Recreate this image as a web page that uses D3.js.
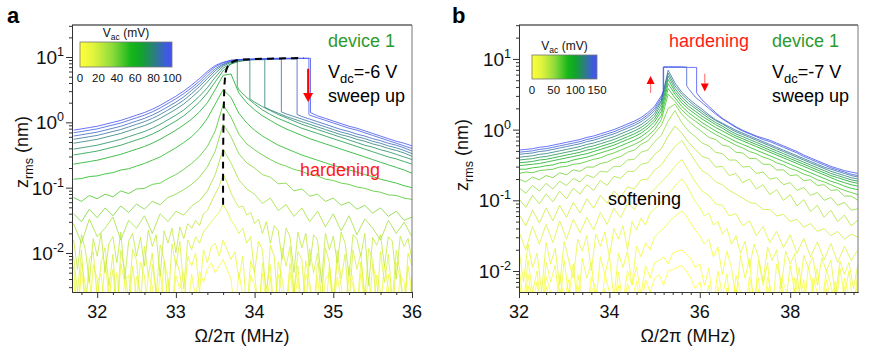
<!DOCTYPE html>
<html><head><meta charset="utf-8">
<script src="https://cdn.jsdelivr.net/npm/d3@7"></script>
<style>
body{margin:0;background:#fff}
svg{display:block}
text{font-family:"Liberation Sans",Arial,Helvetica,sans-serif}
</style>
</head><body>
<svg id="chart" width="871" height="353"></svg>
<script>
// ---------------- DATA (log10 of z_rms in nm) ----------------
const freqA = [31.7,31.8,31.9,32.0,32.1,32.2,32.3,32.4,32.5,32.6,32.7,32.8,32.9,33.0,33.1,33.2,33.3,33.4,33.5,33.6,33.7,33.8,33.9,34.0,34.1,34.2,34.3,34.4,34.5,34.6,34.7,34.8,34.9,35.0,35.1,35.2,35.3,35.4,35.5,35.6,35.7,35.8,35.9,36.0];
const freqAFine = [31.70,31.75,31.80,31.85,31.90,31.95,32.00,32.05,32.10,32.15,32.20,32.25,32.30,32.35,32.40,32.45,32.50,32.55,32.60,32.65,32.70,32.75,32.80,32.85,32.90,32.95,33.00,33.05,33.10,33.15,33.20,33.25,33.30,33.35,33.40,33.45,33.50,33.55,33.60,33.65,33.70,33.75,33.80,33.85,33.90,33.95,34.00,34.05,34.10,34.15,34.20,34.25,34.30,34.35,34.40,34.45,34.50,34.55,34.60,34.65,34.70,34.75,34.80,34.85,34.90,34.95,35.00,35.05,35.10,35.15,35.20,35.25,35.30,35.35,35.40,35.45,35.50,35.55,35.60,35.65,35.70,35.75,35.80,35.85,35.90,35.95,36.00];
const vacA = [100,95,90,85,80,75,70,62,54,46,38,30,23,16,9,3];
const gridOfA = [0,0,0,0,0,0,0,0,0,0,0,0,1,1,1,1];
const logZA = [
[-0.12,-0.10,-0.08,-0.06,-0.03,0.00,0.03,0.07,0.11,0.15,0.20,0.26,0.33,0.40,0.48,0.57,0.67,0.78,0.87,0.92,0.95,0.96,0.97,0.97,0.97,0.98,0.98,0.98,0.98,0.98,0.98,0.10,0.06,0.02,-0.02,-0.06,-0.09,-0.13,-0.17,-0.21,-0.25,-0.29,-0.32,-0.36],
[-0.16,-0.14,-0.12,-0.10,-0.07,-0.04,-0.01,0.03,0.07,0.11,0.16,0.22,0.29,0.36,0.44,0.53,0.63,0.75,0.85,0.91,0.95,0.96,0.96,0.97,0.97,0.97,0.97,0.98,0.98,0.98,0.11,0.07,0.03,-0.01,-0.05,-0.09,-0.12,-0.16,-0.20,-0.24,-0.28,-0.32,-0.36,-0.40],
[-0.21,-0.19,-0.17,-0.15,-0.12,-0.09,-0.06,-0.02,0.02,0.06,0.11,0.17,0.24,0.31,0.39,0.49,0.59,0.71,0.82,0.89,0.94,0.96,0.96,0.96,0.97,0.97,0.97,0.97,0.97,0.09,0.05,0.01,-0.03,-0.07,-0.11,-0.14,-0.18,-0.21,-0.25,-0.28,-0.32,-0.35,-0.39,-0.44],
[-0.26,-0.24,-0.22,-0.20,-0.17,-0.14,-0.11,-0.07,-0.03,0.01,0.06,0.12,0.19,0.26,0.34,0.44,0.55,0.67,0.79,0.88,0.93,0.95,0.96,0.96,0.96,0.97,0.97,0.13,0.09,0.05,0.01,-0.03,-0.07,-0.11,-0.15,-0.18,-0.22,-0.25,-0.29,-0.32,-0.36,-0.39,-0.43,-0.48],
[-0.32,-0.30,-0.28,-0.26,-0.23,-0.20,-0.17,-0.13,-0.09,-0.05,0.00,0.06,0.13,0.20,0.28,0.38,0.49,0.62,0.75,0.86,0.92,0.94,0.95,0.96,0.96,0.19,0.14,0.09,0.05,0.01,-0.03,-0.07,-0.11,-0.15,-0.19,-0.22,-0.26,-0.29,-0.33,-0.36,-0.40,-0.43,-0.47,-0.52],
[-0.41,-0.39,-0.37,-0.35,-0.32,-0.29,-0.26,-0.22,-0.18,-0.14,-0.09,-0.03,0.04,0.11,0.19,0.29,0.40,0.53,0.69,0.83,0.90,0.93,0.95,0.31,0.24,0.18,0.12,0.07,0.02,-0.03,-0.07,-0.11,-0.15,-0.19,-0.23,-0.27,-0.31,-0.35,-0.38,-0.42,-0.45,-0.49,-0.53,-0.57],
[-0.50,-0.48,-0.46,-0.44,-0.41,-0.38,-0.35,-0.31,-0.27,-0.23,-0.18,-0.12,-0.05,0.02,0.10,0.20,0.31,0.45,0.62,0.79,0.89,0.50,0.38,0.28,0.19,0.12,0.06,0.01,-0.04,-0.09,-0.13,-0.17,-0.21,-0.25,-0.29,-0.33,-0.37,-0.41,-0.45,-0.49,-0.53,-0.56,-0.60,-0.64],
[-0.64,-0.62,-0.60,-0.58,-0.55,-0.52,-0.49,-0.45,-0.41,-0.37,-0.32,-0.26,-0.19,-0.12,-0.04,0.05,0.16,0.30,0.50,0.72,0.74,0.45,0.30,0.19,0.10,0.03,-0.04,-0.10,-0.15,-0.20,-0.25,-0.29,-0.33,-0.37,-0.41,-0.45,-0.49,-0.53,-0.57,-0.61,-0.65,-0.69,-0.73,-0.78],
[-0.87,-0.86,-0.83,-0.82,-0.79,-0.77,-0.73,-0.71,-0.67,-0.63,-0.58,-0.53,-0.46,-0.39,-0.31,-0.22,-0.10,0.06,0.28,0.50,0.38,0.14,-0.01,-0.12,-0.21,-0.28,-0.35,-0.40,-0.45,-0.50,-0.54,-0.58,-0.62,-0.66,-0.69,-0.73,-0.76,-0.80,-0.83,-0.87,-0.90,-0.93,-0.97,-1.00],
[-1.15,-1.21,-1.12,-1.17,-1.10,-1.14,-1.05,-1.09,-1.02,-1.01,-0.95,-0.93,-0.86,-0.80,-0.72,-0.63,-0.52,-0.37,-0.13,0.27,0.08,-0.18,-0.33,-0.42,-0.50,-0.57,-0.63,-0.67,-0.72,-0.75,-0.80,-0.82,-0.87,-0.89,-0.93,-0.95,-0.99,-1.01,-1.05,-1.07,-1.11,-1.12,-1.16,-1.18],
[-1.40,-1.52,-1.33,-1.46,-1.31,-1.43,-1.28,-1.38,-1.25,-1.33,-1.21,-1.26,-1.15,-1.10,-1.03,-0.95,-0.84,-0.68,-0.44,-0.03,-0.22,-0.48,-0.62,-0.70,-0.80,-0.84,-0.94,-0.93,-1.05,-1.02,-1.13,-1.10,-1.21,-1.16,-1.27,-1.22,-1.33,-1.27,-1.39,-1.31,-1.44,-1.36,-1.50,-1.45],
[-1.55,-1.85,-1.48,-1.75,-1.62,-1.45,-1.80,-1.50,-1.62,-1.43,-1.70,-1.40,-1.52,-1.36,-1.42,-1.28,-1.20,-1.05,-0.80,-0.41,-0.62,-0.88,-1.02,-1.10,-1.24,-1.16,-1.35,-1.26,-1.44,-1.31,-1.52,-1.36,-1.60,-1.40,-1.66,-1.43,-1.72,-1.48,-1.62,-1.80,-1.50,-1.70,-1.53,-1.75],
[-1.80,-2.25,-1.72,-1.95,-2.45,-1.78,-2.05,-1.70,-2.30,-1.85,-1.75,-2.15,-1.68,-2.40,-1.82,-1.70,-2.05,-1.76,-2.20,-1.65,-1.90,-1.72,-2.35,-1.66,-1.85,-1.62,-2.00,-1.60,-1.78,-1.55,-1.62,-1.50,-1.58,-1.40,-1.35,-1.22,-1.10,-0.98,-0.79,-0.92,-1.08,-1.20,-1.30,-1.28,-1.42,-1.38,-1.55,-1.48,-1.70,-1.52,-1.85,-1.58,-1.66,-2.10,-1.62,-1.75,-2.30,-1.68,-1.92,-1.70,-2.20,-1.72,-1.80,-2.45,-1.70,-1.95,-1.74,-2.15,-1.68,-1.85,-2.35,-1.72,-1.78,-2.05,-1.70,-2.50,-1.76,-1.88,-1.72,-2.20,-1.75,-1.82,-2.40,-1.74,-1.90,-1.78,-2.10],
[-2.05,-2.60,-1.95,-2.85,-2.10,-1.98,-2.70,-2.15,-1.92,-2.50,-2.02,-2.90,-1.96,-2.25,-2.75,-1.94,-2.12,-2.80,-1.90,-2.35,-2.00,-2.65,-1.88,-2.10,-2.85,-1.86,-2.20,-1.82,-2.55,-1.80,-1.95,-1.75,-1.85,-1.68,-1.60,-1.52,-1.45,-1.38,-1.26,-1.36,-1.50,-1.58,-1.70,-1.62,-1.85,-1.75,-2.30,-1.82,-1.95,-2.70,-1.88,-2.05,-2.90,-1.92,-2.20,-1.90,-2.60,-1.98,-2.10,-2.85,-1.94,-2.30,-2.00,-2.75,-1.92,-2.15,-2.90,-1.96,-2.40,-2.02,-2.80,-1.95,-2.25,-2.00,-2.70,-1.93,-2.10,-2.85,-1.98,-2.45,-2.02,-2.75,-1.96,-2.30,-2.90,-2.00,-2.20],
[-2.20,-2.95,-2.15,-2.50,-3.00,-2.18,-2.40,-2.90,-2.12,-2.65,-2.25,-3.00,-2.16,-2.45,-2.95,-2.20,-2.70,-2.14,-2.35,-3.00,-2.18,-2.60,-2.90,-2.12,-2.40,-2.95,-2.10,-2.30,-2.80,-2.05,-2.20,-2.00,-2.60,-1.95,-2.15,-1.90,-1.85,-2.05,-1.80,-1.95,-2.10,-1.98,-2.40,-2.05,-2.90,-2.12,-2.30,-2.95,-2.15,-2.55,-2.18,-3.00,-2.14,-2.40,-2.85,-2.16,-2.60,-2.20,-2.95,-2.12,-2.45,-2.90,-2.15,-2.35,-3.00,-2.18,-2.70,-2.12,-2.50,-2.95,-2.20,-2.40,-2.90,-2.14,-2.65,-3.00,-2.16,-2.45,-2.85,-2.18,-2.55,-3.00,-2.15,-2.40,-2.90,-2.20,-2.60],
[-2.40,-3.00,-2.30,-2.70,-2.35,-3.00,-2.45,-2.32,-2.90,-2.38,-2.80,-2.30,-3.00,-2.42,-2.34,-2.95,-2.36,-2.60,-3.00,-2.33,-2.50,-2.95,-2.31,-2.75,-2.40,-3.00,-2.35,-2.55,-2.30,-2.90,-2.32,-2.70,-2.28,-2.45,-2.25,-2.15,-2.30,-2.20,-2.10,-2.25,-2.40,-2.95,-2.30,-2.65,-3.00,-2.34,-2.50,-2.90,-2.31,-2.80,-2.36,-3.00,-2.33,-2.60,-2.95,-2.30,-2.75,-2.38,-3.00,-2.32,-2.55,-2.90,-2.35,-3.00,-2.40,-2.30,-2.85,-2.36,-2.70,-3.00,-2.33,-2.50,-2.95,-2.31,-2.80,-2.37,-3.00,-2.34,-2.60,-2.90,-2.32,-2.75,-3.00,-2.35,-2.45,-2.95,-2.33]
];
// jumps: [frequency, log10 z before, log10 z after]
const jumpsA = [
[[34.71,0.98,0.15]],[[34.69,0.98,0.12]],[[34.54,0.97,0.12]],[[34.34,0.97,0.16]],
[[34.13,0.96,0.23]],[[33.94,0.95,0.36]],[[33.78,0.93,0.55]],[],[],[],[],[],[],[],[],[]
];
const backboneFreqA = [33.60,33.60,33.61,33.62,33.64,33.68,33.75,33.85,34.00,34.20,34.40,34.62];
const backboneLogA  = [-1.26,-0.50,0.30,0.62,0.80,0.89,0.94,0.96,0.97,0.975,0.98,0.985];
const arrowFreqA = [34.68], arrowFromA = [0.82], arrowToA = [0.31];

const freqB = [32.00,32.15,32.30,32.45,32.60,32.75,32.90,33.05,33.20,33.35,33.50,33.65,33.80,33.95,34.10,34.25,34.40,34.55,34.70,34.85,35.00,35.15,35.30,35.45,35.60,35.75,35.90,36.05,36.20,36.35,36.50,36.65,36.80,36.95,37.10,37.25,37.40,37.55,37.70,37.85,38.00,38.15,38.30,38.45,38.60,38.75,38.90,39.05,39.20,39.35,39.50];
const freqBFine = [32.0,32.1,32.2,32.3,32.4,32.5,32.6,32.7,32.8,32.9,33.0,33.1,33.2,33.3,33.4,33.5,33.6,33.7,33.8,33.9,34.0,34.1,34.2,34.3,34.4,34.5,34.6,34.7,34.8,34.9,35.0,35.1,35.2,35.3,35.4,35.5,35.6,35.7,35.8,35.9,36.0,36.1,36.2,36.3,36.4,36.5,36.6,36.7,36.8,36.9,37.0,37.1,37.2,37.3,37.4,37.5,37.6,37.7,37.8,37.9,38.0,38.1,38.2,38.3,38.4,38.5,38.6,38.7,38.8,38.9,39.0,39.1,39.2,39.3,39.4,39.5];
const vacB = [150,140,130,120,110,100,90,80,70,60,50,40,30,22,15,8,3,0];
const gridOfB = [0,0,0,0,0,0,0,0,0,0,0,0,0,0,1,1,1,1];
const logZB = [
[-0.29,-0.28,-0.27,-0.25,-0.24,-0.22,-0.20,-0.18,-0.16,-0.14,-0.11,-0.09,-0.06,-0.03,0.00,0.04,0.08,0.12,0.17,0.24,0.33,0.48,0.89,0.89,0.89,0.88,0.88,0.42,0.33,0.24,0.16,0.10,0.04,-0.01,-0.05,-0.09,-0.12,-0.15,-0.19,-0.23,-0.27,-0.31,-0.36,-0.40,-0.44,-0.48,-0.52,-0.55,-0.58,-0.60,-0.62],
[-0.32,-0.31,-0.30,-0.28,-0.27,-0.25,-0.23,-0.21,-0.19,-0.17,-0.14,-0.12,-0.09,-0.06,-0.03,0.01,0.05,0.09,0.14,0.21,0.30,0.45,0.88,0.88,0.88,0.58,0.46,0.38,0.30,0.22,0.15,0.09,0.03,-0.02,-0.06,-0.10,-0.14,-0.17,-0.21,-0.25,-0.29,-0.33,-0.38,-0.42,-0.46,-0.50,-0.54,-0.57,-0.60,-0.63,-0.65],
[-0.35,-0.34,-0.33,-0.31,-0.30,-0.28,-0.26,-0.24,-0.22,-0.20,-0.17,-0.15,-0.12,-0.09,-0.06,-0.02,0.02,0.06,0.11,0.18,0.27,0.42,0.84,0.66,0.53,0.44,0.36,0.29,0.21,0.14,0.09,0.04,-0.01,-0.05,-0.09,-0.13,-0.17,-0.21,-0.25,-0.29,-0.33,-0.37,-0.41,-0.45,-0.49,-0.53,-0.56,-0.59,-0.62,-0.65,-0.67],
[-0.39,-0.38,-0.37,-0.35,-0.34,-0.32,-0.30,-0.28,-0.26,-0.24,-0.21,-0.19,-0.16,-0.13,-0.10,-0.06,-0.02,0.02,0.07,0.14,0.23,0.40,0.80,0.62,0.50,0.41,0.33,0.26,0.19,0.13,0.08,0.02,-0.03,-0.07,-0.11,-0.15,-0.19,-0.23,-0.27,-0.31,-0.35,-0.39,-0.43,-0.47,-0.51,-0.55,-0.59,-0.62,-0.65,-0.68,-0.70],
[-0.43,-0.42,-0.41,-0.39,-0.38,-0.36,-0.34,-0.32,-0.30,-0.28,-0.25,-0.23,-0.20,-0.17,-0.14,-0.10,-0.06,-0.02,0.03,0.10,0.19,0.36,0.76,0.58,0.46,0.37,0.30,0.23,0.16,0.10,0.05,-0.01,-0.06,-0.10,-0.14,-0.18,-0.22,-0.26,-0.30,-0.34,-0.38,-0.42,-0.46,-0.50,-0.54,-0.58,-0.62,-0.65,-0.68,-0.71,-0.73],
[-0.47,-0.46,-0.45,-0.43,-0.42,-0.40,-0.38,-0.36,-0.34,-0.32,-0.29,-0.27,-0.24,-0.21,-0.18,-0.14,-0.10,-0.06,-0.01,0.06,0.15,0.31,0.71,0.54,0.42,0.33,0.26,0.19,0.13,0.07,0.02,-0.04,-0.09,-0.13,-0.17,-0.21,-0.25,-0.29,-0.33,-0.37,-0.41,-0.45,-0.49,-0.53,-0.57,-0.61,-0.65,-0.68,-0.71,-0.74,-0.76],
[-0.51,-0.50,-0.49,-0.48,-0.46,-0.44,-0.42,-0.40,-0.38,-0.36,-0.34,-0.31,-0.28,-0.25,-0.22,-0.18,-0.14,-0.10,-0.05,0.02,0.11,0.26,0.65,0.50,0.38,0.29,0.22,0.15,0.09,0.03,-0.02,-0.07,-0.12,-0.16,-0.20,-0.24,-0.28,-0.32,-0.36,-0.40,-0.44,-0.48,-0.52,-0.56,-0.60,-0.64,-0.68,-0.72,-0.75,-0.78,-0.80],
[-0.56,-0.56,-0.54,-0.53,-0.51,-0.50,-0.47,-0.46,-0.43,-0.41,-0.39,-0.36,-0.33,-0.30,-0.27,-0.23,-0.19,-0.15,-0.10,-0.03,0.06,0.20,0.58,0.45,0.33,0.24,0.17,0.10,0.04,-0.02,-0.07,-0.12,-0.17,-0.21,-0.25,-0.29,-0.33,-0.37,-0.41,-0.45,-0.49,-0.53,-0.57,-0.61,-0.65,-0.69,-0.73,-0.76,-0.80,-0.83,-0.85],
[-0.62,-0.60,-0.61,-0.58,-0.57,-0.56,-0.53,-0.52,-0.49,-0.48,-0.45,-0.42,-0.40,-0.36,-0.33,-0.29,-0.25,-0.21,-0.16,-0.09,0.00,0.14,0.50,0.40,0.28,0.19,0.12,0.05,-0.01,-0.07,-0.12,-0.17,-0.22,-0.26,-0.31,-0.34,-0.39,-0.42,-0.47,-0.50,-0.55,-0.58,-0.63,-0.66,-0.71,-0.74,-0.78,-0.82,-0.86,-0.89,-0.92],
[-0.70,-0.74,-0.67,-0.71,-0.65,-0.68,-0.61,-0.64,-0.57,-0.59,-0.53,-0.53,-0.48,-0.46,-0.41,-0.38,-0.32,-0.29,-0.21,-0.16,-0.05,0.06,0.30,0.36,0.22,0.12,0.04,-0.03,-0.11,-0.14,-0.22,-0.24,-0.32,-0.33,-0.41,-0.41,-0.49,-0.49,-0.57,-0.57,-0.65,-0.64,-0.72,-0.71,-0.79,-0.78,-0.86,-0.85,-0.94,-0.94,-1.00],
[-0.82,-0.90,-0.79,-0.87,-0.76,-0.84,-0.73,-0.79,-0.69,-0.74,-0.64,-0.68,-0.59,-0.60,-0.52,-0.52,-0.43,-0.42,-0.32,-0.29,-0.17,-0.08,0.12,0.27,0.10,-0.02,-0.10,-0.19,-0.23,-0.32,-0.34,-0.43,-0.43,-0.53,-0.52,-0.62,-0.60,-0.70,-0.68,-0.78,-0.75,-0.86,-0.82,-0.93,-0.89,-1.00,-0.96,-1.07,-1.03,-1.14,-1.12],
[-0.98,-1.10,-0.93,-1.05,-0.91,-1.02,-0.87,-0.98,-0.83,-0.91,-0.78,-0.86,-0.72,-0.79,-0.66,-0.69,-0.59,-0.59,-0.49,-0.47,-0.35,-0.27,-0.09,0.05,-0.05,-0.18,-0.28,-0.38,-0.41,-0.53,-0.52,-0.65,-0.62,-0.75,-0.70,-0.84,-0.78,-0.92,-0.85,-1.00,-0.92,-1.08,-0.99,-1.16,-1.07,-1.24,-1.14,-1.30,-1.21,-1.36,-1.28],
[-1.20,-1.36,-1.14,-1.32,-1.11,-1.29,-1.07,-1.24,-1.03,-1.18,-0.98,-1.11,-0.93,-1.04,-0.87,-0.96,-0.81,-0.84,-0.71,-0.70,-0.57,-0.50,-0.36,-0.24,-0.15,-0.30,-0.45,-0.58,-0.64,-0.74,-0.78,-0.86,-0.91,-0.97,-1.03,-1.05,-1.13,-1.13,-1.22,-1.20,-1.30,-1.27,-1.38,-1.33,-1.44,-1.40,-1.50,-1.44,-1.55,-1.48,-1.52],
[-1.45,-1.70,-1.37,-1.62,-1.34,-1.60,-1.29,-1.55,-1.27,-1.46,-1.24,-1.42,-1.17,-1.34,-1.11,-1.25,-1.04,-1.13,-0.97,-0.94,-0.84,-0.74,-0.64,-0.52,-0.42,-0.58,-0.74,-0.87,-0.93,-1.05,-1.07,-1.22,-1.19,-1.36,-1.29,-1.50,-1.37,-1.60,-1.44,-1.67,-1.49,-1.75,-1.54,-1.80,-1.59,-1.84,-1.61,-1.88,-1.65,-1.85,-1.70],
[-1.70,-2.15,-1.62,-1.95,-1.75,-2.30,-1.60,-1.90,-1.68,-2.20,-1.58,-1.85,-2.10,-1.55,-1.72,-1.50,-2.00,-1.48,-1.65,-1.45,-1.80,-1.40,-1.55,-1.36,-1.70,-1.30,-1.42,-1.25,-1.35,-1.18,-1.12,-1.06,-0.98,-0.90,-0.84,-0.76,-0.70,-0.78,-0.90,-1.02,-1.10,-1.22,-1.18,-1.35,-1.30,-1.48,-1.40,-1.62,-1.50,-1.75,-1.58,-1.95,-1.62,-1.80,-2.15,-1.66,-1.85,-1.70,-2.25,-1.72,-1.90,-1.75,-2.30,-1.78,-1.95,-1.80,-2.20,-1.82,-2.00,-1.85,-2.35,-1.86,-2.05,-1.88,-2.25,-1.90],
[-1.95,-2.45,-1.85,-2.30,-2.00,-2.60,-1.88,-2.15,-1.92,-2.50,-1.85,-2.35,-1.90,-2.55,-1.82,-2.10,-1.88,-2.45,-1.80,-2.05,-1.78,-2.40,-1.75,-1.95,-1.72,-2.20,-1.65,-1.80,-1.60,-1.70,-1.52,-1.45,-1.40,-1.32,-1.25,-1.20,-1.15,-1.22,-1.32,-1.42,-1.50,-1.62,-1.55,-1.80,-1.66,-2.05,-1.72,-1.95,-2.40,-1.78,-2.10,-1.82,-2.55,-1.85,-2.20,-1.88,-2.60,-1.90,-2.15,-2.45,-1.92,-2.30,-1.95,-2.60,-1.94,-2.25,-1.96,-2.50,-1.98,-2.20,-2.60,-1.96,-2.35,-2.00,-2.55,-1.98],
[-2.10,-2.60,-2.05,-2.45,-2.15,-2.70,-2.08,-2.30,-2.60,-2.06,-2.40,-2.12,-2.70,-2.05,-2.35,-2.55,-2.08,-2.25,-2.65,-2.04,-2.30,-2.60,-2.02,-2.45,-2.00,-2.20,-1.95,-2.35,-1.92,-2.10,-1.88,-1.85,-1.80,-1.90,-1.75,-1.72,-1.70,-1.76,-1.82,-1.95,-1.90,-2.20,-1.96,-2.50,-2.00,-2.35,-2.04,-2.65,-2.06,-2.30,-2.60,-2.08,-2.40,-2.10,-2.70,-2.08,-2.35,-2.55,-2.10,-2.25,-2.65,-2.10,-2.45,-2.12,-2.70,-2.10,-2.30,-2.60,-2.12,-2.40,-2.14,-2.65,-2.10,-2.35,-2.55,-2.12],
[-2.25,-2.70,-2.20,-2.55,-2.30,-2.80,-2.22,-2.45,-2.75,-2.24,-2.60,-2.26,-2.80,-2.20,-2.50,-2.70,-2.22,-2.40,-2.80,-2.25,-2.55,-2.75,-2.20,-2.60,-2.18,-2.40,-2.15,-2.50,-2.12,-2.30,-2.10,-2.05,-2.20,-2.00,-1.98,-1.95,-1.92,-2.00,-2.10,-2.25,-2.15,-2.45,-2.20,-2.70,-2.22,-2.55,-2.24,-2.80,-2.25,-2.50,-2.75,-2.24,-2.60,-2.26,-2.80,-2.22,-2.45,-2.70,-2.25,-2.40,-2.80,-2.24,-2.55,-2.26,-2.75,-2.22,-2.50,-2.80,-2.25,-2.45,-2.26,-2.75,-2.22,-2.55,-2.70,-2.25]
];
const jumpsB = [
[[35.20,0.55,0.89],[35.93,0.88,0.52]],
[[35.19,0.52,0.88],[35.71,0.88,0.62]],
[],[],[],[],[],[],[],[],[],[],[],[],[],[],[],[]
];
const arrowFreqB = [34.91,36.11], arrowFromB = [0.52,0.79], arrowToB = [0.76,0.54];

const xTicksA = [32,33,34,35,36];
const xTicksB = [32,34,36,38];
const yTickExp = [-2,-1,0,1];
const cbTicksA = [0,20,40,60,80,100];
const cbTicksB = [0,50,100,150];

// ---------------- DRAWING ----------------
const svg = d3.select("#chart");
const defs = svg.append("defs");
const cmapPos = [0,0.15,0.35,0.55,0.66,0.8,0.92,1];
const cmapCol = ["#ffff38","#e0f43c","#8edb3c","#17b71a","#10a52a","#2b8079","#3a60d2","#4450f5"];
function makeColor(vmax){
  return d3.scaleLinear().domain(cmapPos.map(p=>p*vmax)).range(cmapCol).interpolate(d3.interpolateRgb);
}
const grad = defs.append("linearGradient").attr("id","cmap").attr("x1","0").attr("x2","1").attr("y1","0").attr("y2","0");
cmapPos.forEach((p,i)=>grad.append("stop").attr("offset",p).attr("stop-color",cmapCol[i]));

function buildPts(freq, logs, jumps){
  const pts=[]; const n=Math.min(freq.length,logs.length); let j=0;
  for(let i=0;i<n;i++){
    while(j<jumps.length && jumps[j][0]<freq[i]){pts.push([jumps[j][0],jumps[j][1]]);pts.push([jumps[j][0],jumps[j][2]]);j++;}
    pts.push([freq[i],logs[i]]);
  }
  while(j<jumps.length){pts.push([jumps[j][0],jumps[j][1]]);pts.push([jumps[j][0],jumps[j][2]]);j++;}
  return pts;
}

function panel(c){
  const x=d3.scaleLinear().domain(c.xDom).range([c.L,c.R]);
  const y=d3.scaleLog().domain(c.yDom).range([c.B,c.T]);
  const color=makeColor(c.vmax);
  defs.append("clipPath").attr("id",c.id+"clip").append("rect")
    .attr("x",c.L).attr("y",c.T).attr("width",c.R-c.L).attr("height",c.B-c.T);
  const g=svg.append("g").attr("clip-path",`url(#${c.id}clip)`);
  const line=d3.line().x(d=>x(d[0])).y(d=>y(Math.pow(10,d[1])));
  const order=d3.range(c.vac.length).sort((a,b)=>c.vac[a]-c.vac[b]);
  order.forEach(k=>{
    g.append("path").datum(buildPts(c.grids[c.gridOf[k]],c.logs[k],c.jumps[k]||[]))
      .attr("d",line).attr("fill","none").attr("stroke",color(c.vac[k]))
      .attr("stroke-width",0.8).attr("stroke-linejoin","round");
  });
  // axes
  svg.append("g").attr("transform",`translate(0,${c.B})`)
    .call(d3.axisBottom(x).tickValues(c.xTicks).tickSize(6).tickSizeOuter(0).tickFormat(""));
  const minors=d3.range(Math.ceil(c.xDom[0]*5),Math.floor(c.xDom[1]*5)+1).map(v=>v/5).filter(v=>!c.xTicks.some(t=>Math.abs(t-v)<1e-6));
  svg.append("g").attr("transform",`translate(0,${c.B})`)
    .call(d3.axisBottom(x).tickValues(minors).tickSize(3).tickSizeOuter(0).tickFormat(""));
  const yMaj=yTickExp.map(e=>Math.pow(10,e));
  const yMin=[];
  for(let e=-3;e<=1;e++)for(let k=2;k<=9;k++){const v=k*Math.pow(10,e);if(v>=c.yDom[0]&&v<=c.yDom[1])yMin.push(v);}
  svg.append("g").attr("transform",`translate(${c.L},0)`)
    .call(d3.axisLeft(y).tickValues(yMaj).tickSize(6).tickSizeOuter(0).tickFormat(""));
  svg.append("g").attr("transform",`translate(${c.L},0)`)
    .call(d3.axisLeft(y).tickValues(yMin).tickSize(3).tickSizeOuter(0).tickFormat(""));
  svg.selectAll(".domain").attr("stroke","#333");
  svg.selectAll(".tick line").attr("stroke","#333");
  // frame
  svg.append("line").attr("x1",c.L).attr("x2",c.R).attr("y1",c.T).attr("y2",c.T).attr("stroke","#111").attr("stroke-width",1.2);
  svg.append("line").attr("x1",c.R).attr("x2",c.R).attr("y1",c.T).attr("y2",c.B).attr("stroke","#777").attr("stroke-width",1);
  // tick labels
  c.xTicks.forEach(t=>svg.append("text").attr("x",x(t)).attr("y",c.B+26).attr("text-anchor","middle").attr("font-size",18).attr("fill","#111").text(t));
  yTickExp.forEach(e=>{
    const t=svg.append("text").attr("x",c.L-8).attr("y",y(Math.pow(10,e))+7).attr("text-anchor","end").attr("font-size",19).attr("fill","#111");
    t.append("tspan").text("10");
    t.append("tspan").attr("dy",-8).attr("font-size",12.5).text(e<0?"-"+(-e):String(e));
  });
  // axis titles
  svg.append("text").attr("x",c.xlabX).attr("y",342).attr("text-anchor","middle").attr("font-size",18).attr("fill","#111").text("Ω/2π (MHz)");
  const yl=svg.append("text").attr("transform",`translate(${c.ylabX},${c.ylabY}) rotate(-90)`).attr("text-anchor","middle").attr("font-size",18).attr("fill","#111");
  yl.append("tspan").text("z");
  yl.append("tspan").attr("dy",5).attr("font-size",12.5).text("rms");
  yl.append("tspan").attr("dy",-5).text(" (nm)");
  // colorbar
  svg.append("rect").attr("x",c.cb[0]).attr("y",c.cb[1]).attr("width",c.cb[2]).attr("height",c.cb[3])
    .attr("fill","url(#cmap)").attr("stroke","#777").attr("stroke-width",0.8);
  const cbx=d3.scaleLinear().domain([0,c.vmax]).range([c.cb[0],c.cb[0]+c.cb[2]]);
  c.cbTicks.forEach(t=>svg.append("text").attr("x",cbx(t)).attr("y",c.cb[1]+c.cb[3]+15).attr("text-anchor","middle").attr("font-size",11.5).attr("fill","#111").text(t));
  const ct=svg.append("text").attr("x",c.cb[0]+c.cb[2]/2).attr("y",c.cb[1]-5).attr("text-anchor","middle").attr("font-size",12).attr("fill","#111");
  ct.append("tspan").text("V");
  ct.append("tspan").attr("dy",3).attr("font-size",8.5).text("ac");
  ct.append("tspan").attr("dy",-3).text(" (mV)");
  // labels
  svg.append("text").attr("x",c.panelX).attr("y",23).attr("font-size",22).attr("font-weight","bold").attr("fill","#000").text(c.id);
  svg.append("text").attr("x",c.devX).attr("y",47).attr("font-size",18).attr("fill","#2e9b2e").text("device 1");
  const vd=svg.append("text").attr("x",c.devX).attr("y",78).attr("font-size",18).attr("fill","#000");
  vd.append("tspan").text("V");
  vd.append("tspan").attr("dy",5).attr("font-size",13).text("dc");
  vd.append("tspan").attr("dy",-5).text(c.vdc);
  svg.append("text").attr("x",c.devX).attr("y",102).attr("font-size",18).attr("fill","#000").text("sweep up");
  // arrows
  c.arrF.forEach((f,i)=>{
    const ax0=x(f), y0=y(Math.pow(10,c.arrFrom[i])), y1=y(Math.pow(10,c.arrTo[i]));
    const dir=Math.sign(y1-y0), hl=c.headL, hw=c.headW;
    svg.append("line").attr("x1",ax0).attr("x2",ax0).attr("y1",y0).attr("y2",y1-dir*hl)
      .attr("stroke",c.shaftCol).attr("stroke-width",c.shaftW);
    svg.append("path").attr("d",`M${ax0-hw/2},${y1-dir*hl} L${ax0+hw/2},${y1-dir*hl} L${ax0},${y1} Z`).attr("fill","#ff0000");
  });
  return {x,y};
}

const pa = panel({id:"a",L:72,R:412,T:25,B:292,xDom:[31.68,36.0],yDom:[Math.pow(10,-2.597),Math.pow(10,1.49)],
  grids:[freqA,freqAFine],gridOf:gridOfA,logs:logZA,jumps:jumpsA,vac:vacA,vmax:100,xTicks:xTicksA,
  xlabX:242,ylabX:28,ylabY:152,cb:[80,42,92,25],cbTicks:cbTicksA,panelX:7,devX:328,vdc:"=-6 V",
  arrF:arrowFreqA,arrFrom:arrowFromA,arrTo:arrowToA,headL:9,headW:10,shaftW:2,shaftCol:"#ff0000"});
svg.append("path").datum(d3.zip(backboneFreqA,backboneLogA))
  .attr("d",d3.line().x(d=>pa.x(d[0])).y(d=>pa.y(Math.pow(10,d[1]))).curve(d3.curveCatmullRom))
  .attr("fill","none").attr("stroke","#000").attr("stroke-width",2).attr("stroke-dasharray","7,5");
svg.append("text").attr("x",300).attr("y",176).attr("font-size",18).attr("fill","#ff1a1a").text("hardening");

const pb = panel({id:"b",L:519,R:858,T:25,B:292,xDom:[32,39.5],yDom:[Math.pow(10,-2.297),Math.pow(10,1.48)],
  grids:[freqB,freqBFine],gridOf:gridOfB,logs:logZB,jumps:jumpsB,vac:vacB,vmax:150,xTicks:xTicksB,
  xlabX:688,ylabX:468,ylabY:155,cb:[532,55,65,24],cbTicks:cbTicksB,panelX:452,devX:772,vdc:"=-7 V",
  arrF:arrowFreqB,arrFrom:arrowFromB,arrTo:arrowToB,headL:8,headW:8,shaftW:1.2,shaftCol:"#ff7b7b"});
svg.append("text").attr("x",669).attr("y",47).attr("font-size",18).attr("fill","#ff1a1a").text("hardening");
svg.append("text").attr("x",608).attr("y",205).attr("font-size",18).attr("fill","#000").text("softening");
</script>
</body></html>
